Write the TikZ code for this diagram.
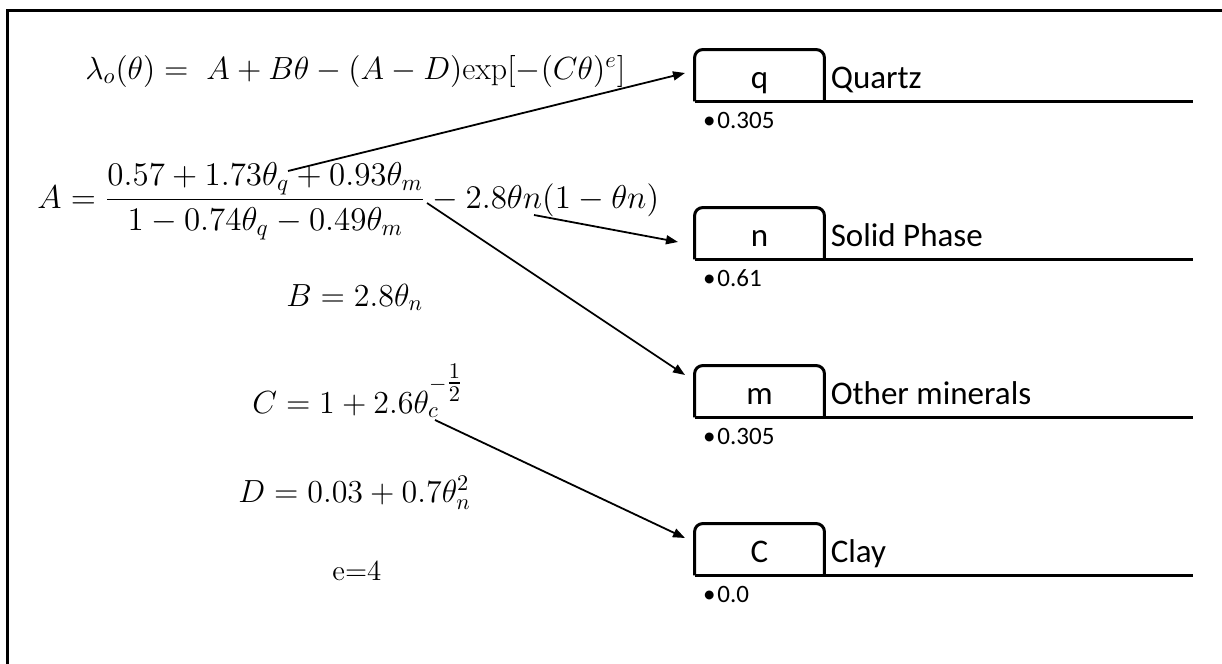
\RequirePackage{fix-cm}
\documentclass[tikz,border=0pt]{standalone}
\usepackage{amsmath}
\usepackage{fontspec}
\newfontfamily\carlito{Carlito}
\usetikzlibrary{arrows.meta}

\tikzset{
  eqn/.style={anchor=base west, inner sep=0pt, font=\fontsize{16}{19}\selectfont},
  bigeqn/.style={anchor=base west, inner sep=0pt, font=\fontsize{16.5}{19}\selectfont},
  plain/.style={anchor=base west, inner sep=0pt, font=\rmfamily\fontsize{14.5}{17}\selectfont},
  tabbox/.style={minimum width=64.5pt, minimum height=25.5pt, inner sep=0pt},
  tabline/.style={line width=1.5pt, rounded corners=4pt},
  rule/.style={line width=1.5pt},
  tabtext/.style={anchor=base, inner sep=0pt, font=\carlito\fontsize{16.5}{18}\selectfont},
  desc/.style={anchor=base west, inner sep=0pt, font=\carlito\fontsize{16.5}{18}\selectfont},
  val/.style={anchor=base west, inner sep=0pt, font=\carlito\fontsize{12.5}{14}\selectfont},
  link/.style={line width=0.9pt, -{Triangle[length=6pt,width=4.5pt]}},
  frame/.style={line width=1.5pt}
}

\begin{document}
\begin{tikzpicture}[x=0.5pt, y=-0.5pt]
  \useasboundingbox (0,0) rectangle (1222,664);

  % outer frame (top and left edges)
  \coordinate (fbl) at (7.5,664);
  \coordinate (ftl) at (7.5,10.5);
  \coordinate (ftr) at (1222,10.5);
  \draw[frame] (fbl) -- (ftl) -- (ftr);

  % formulas
  \node[eqn] (lam) at (85,79)
    {$\lambda_o(\theta) =\; A + B\theta - (A - D)\mathrm{exp}[-(C\theta)^e]$};
  \node[bigeqn] (Aeq) at (37,208)
    {$A = \dfrac{0.57 + 1.73\theta_q + 0.93\theta_m}{1 - 0.74\theta_q - 0.49\theta_m} - 2.8\theta n(1 - \theta n)$};
  \node[eqn] (Beq) at (286,306) {$B = 2.8\theta_n$};
  \node[eqn] (Ceq) at (252,413) {$C = 1 + 2.6\theta_c^{-\tfrac{1}{2}}$};
  \node[eqn] (Deq) at (238,502) {$D = 0.03 + 0.7\theta_n^2$};
  \node[plain] (eeq) at (332,580) {e=4};

  % phase tabs
  \foreach \k/\lab/\dsc/\val/\y in {q/q/Quartz/0.305/75.5,
                                    n/n/Solid Phase/0.61/233.5,
                                    m/m/Other minerals/0.305/391.5,
                                    c/C/Clay/0.0/549.5}{
    \node[tabbox] (\k box) at (759.5,\y) {};
    \node[tabtext] (\k lab) at ([yshift=-6.25pt]\k box.center) {\lab};
    \node[desc] (\k dsc) at ([xshift=3pt,yshift=-6.25pt]\k box.east) {\dsc};
    \node[val] (\k val) at ([xshift=4pt,yshift=-13.5pt]\k box.south west)
      {•\hspace{1pt}\val};
    \coordinate (\k end) at ([xshift=184.5pt]\k box.south east);
    \draw[tabline] (\k box.south west) -- (\k box.north west)
      -- (\k box.north east) -- (\k box.south east);
    \draw[rule] (\k box.south west) -- (\k end);
  }

  % connectors from the formulas to the phases
  \coordinate (srcq) at (288,171);
  \coordinate (srcn) at (534,215);
  \coordinate (srcm) at (427,203);
  \coordinate (srcc) at (435,420);
  \coordinate (tipq) at (685,73);
  \coordinate (tipn) at (678,242);
  \coordinate (tipm) at (685,375);
  \coordinate (tipc) at (685,538);
  \draw[link] (srcq) -- (tipq);
  \draw[link] (srcn) -- (tipn);
  \draw[link] (srcm) -- (tipm);
  \draw[link] (srcc) -- (tipc);
\end{tikzpicture}
\end{document}
